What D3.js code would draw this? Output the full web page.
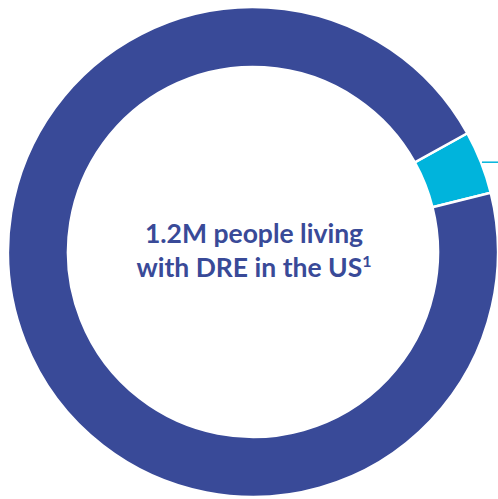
<!DOCTYPE html>
<html>
<head>
<meta charset="utf-8">
<script src="https://cdn.jsdelivr.net/npm/d3@7"></script>
<style>
  html, body { margin: 0; padding: 0; background: #fff; }
  svg { display: block; }
</style>
</head>
<body>
<div id="chart"></div>
<script>
// slice values in millions of people
const segments = ["Highlighted", "Remaining"];
const values = [0.05, 1.15];
const colors = ["#00b4dc", "#394a98"];
const centerLines = ["1.2M people living", "with DRE in the US"];

const width = 498;
const height = 499;
const cx = 253;
const cy = 252;
const outerR = 245;
const innerR = 185;

const svg = d3.select("#chart").append("svg")
  .attr("width", width)
  .attr("height", height);

const g = svg.append("g")
  .attr("transform", `translate(${cx},${cy})`);

const startDeg = 61;
const pie = d3.pie()
  .sort(null)
  .value((d) => d)
  .startAngle(startDeg * Math.PI / 180)
  .endAngle((startDeg + 360) * Math.PI / 180);

const arc = d3.arc()
  .innerRadius(innerR)
  .outerRadius(outerR);

const arcs = pie(values);

g.selectAll("path.slice")
  .data(arcs)
  .enter()
  .append("path")
  .attr("class", "slice")
  .attr("d", arc)
  .attr("fill", (d, i) => colors[i])
  .attr("stroke", "#fff")
  .attr("stroke-width", 2.5);

// leader line from the highlighted slice
const hl = arcs[0];
const mid = (hl.startAngle + hl.endAngle) / 2;
const lx = Math.sin(mid) * outerR;
const ly = -Math.cos(mid) * outerR;
g.append("line")
  .attr("x1", lx + 1)
  .attr("y1", ly)
  .attr("x2", width - cx)
  .attr("y2", ly)
  .attr("stroke", colors[0])
  .attr("stroke-width", 1.5);

const text = g.append("text")
  .attr("text-anchor", "middle")
  .attr("font-family", "Lato, 'Open Sans', sans-serif")
  .attr("font-weight", "bold")
  .attr("font-size", 26.5)
  .attr("fill", "#394a98");

text.append("tspan")
  .attr("x", 1)
  .attr("y", -9)
  .text(centerLines[0]);

text.append("tspan")
  .attr("x", 1)
  .attr("y", 25)
  .text(centerLines[1]);

text.append("tspan")
  .attr("font-size", 16)
  .attr("dy", -10)
  .text("1");
</script>
</body>
</html>
